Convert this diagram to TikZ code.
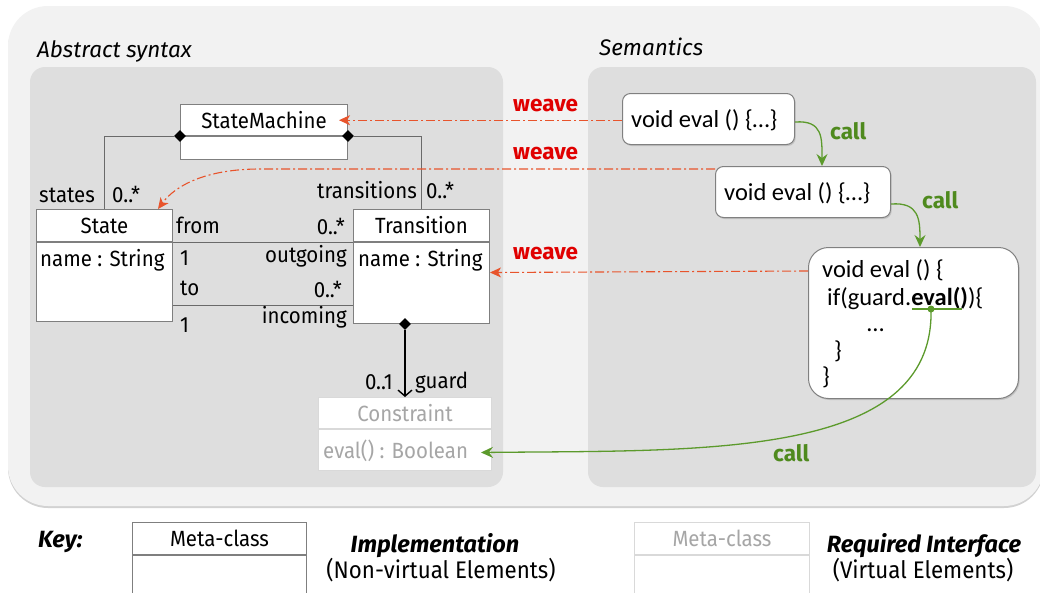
\documentclass[tikz,border=0pt]{standalone}
\usepackage{fontspec}
\setmainfont{Fira Sans}[UprightFeatures={FakeStretch=0.93}]
\newfontfamily\codefont{Carlito}
\usetikzlibrary{arrows.meta,shapes.geometric,shadows,calc}
\definecolor{outerbg}{HTML}{F2F2F2}
\definecolor{panelbg}{HTML}{DEDEDE}
\definecolor{boxline}{HTML}{7F7F7F}
\definecolor{connline}{HTML}{6A6A6A}
\definecolor{virtline}{HTML}{D9D9D9}
\definecolor{virttext}{HTML}{A6A6A6}
\definecolor{weavered}{HTML}{E00000}
\definecolor{weaveline}{HTML}{E8542C}
\definecolor{callgreen}{HTML}{4F8A1E}
\definecolor{callline}{HTML}{5C9A2C}
\definecolor{codeline}{HTML}{808080}
\begin{document}
\begin{tikzpicture}[x=1pt,y=-1pt,
  umltext/.style={font=\fontsize{22}{26}\selectfont, inner sep=0pt},
  clsbox/.style={draw=boxline, fill=white, line width=1pt, inner sep=0pt, font=\fontsize{22}{26}\selectfont},
  virtbox/.style={draw=virtline, fill=white, line width=1pt, inner sep=0pt, text=virttext, font=\fontsize{22}{26}\selectfont},
  codebox/.style={draw=codeline, fill=white, rounded corners=8pt, line width=1pt, inner sep=0pt,
     drop shadow={shadow xshift=1.2pt, shadow yshift=-1.5pt, opacity=0.3}},
  codetext/.style={font=\codefont\fontsize{24.5}{28}\selectfont, inner sep=0pt, anchor=base west},
  weavelbl/.style={font=\bfseries\fontsize{22.5}{26}\selectfont, text=weavered, inner sep=0pt, anchor=base west},
  calllbl/.style={font=\bfseries\fontsize{22.5}{26}\selectfont, text=callgreen, inner sep=0pt, anchor=base west},
  weavearrow/.style={draw=weaveline, line width=1.1pt, dash pattern=on 9pt off 3pt on 2pt off 3pt,
     -{Stealth[length=11pt,width=10pt,inset=3pt]}},
  callarrow/.style={color=callline, line width=1.3pt, -{Stealth[length=12pt,width=11pt,inset=4pt]}},
  compline/.style={draw=connline, line width=1pt},
  guardarrow/.style={draw=black, line width=1.4pt, -{Straight Barb[length=6pt,width=14pt]}},
  compdiamond/.style={diamond, fill=black, inner sep=0pt, minimum width=12pt, minimum height=12pt},
  keybold/.style={font=\bfseries\itshape\fontsize{23.5}{26}\selectfont, inner sep=0pt, anchor=base},
  keysub/.style={font=\fontsize{24}{26}\selectfont, inner sep=0pt, anchor=base},
  paneltitle/.style={font=\itshape\fontsize{22.5}{26}\selectfont, inner sep=0pt, anchor=base west}
]
\useasboundingbox (0,0) rectangle (1040,592);
\fill[white] (0,0) rectangle (1040,592);

% panels
\path[fill=outerbg, rounded corners=40pt, drop shadow={shadow xshift=0pt, shadow yshift=-2pt, opacity=0.35}]
  (8,6) rectangle (1044,506);
\fill[panelbg, rounded corners=15pt] (30,67) rectangle (503,487);
\fill[panelbg, rounded corners=15pt] (588,67) rectangle (1036,487);
\node[paneltitle] (abs) at (37,57) {Abstract syntax};
\node[paneltitle] (sem) at (599,55) {Semantics};

% classes
\node[clsbox, minimum width=167pt, minimum height=31pt, anchor=north west] (smH) at (180,104) {StateMachine};
\node[clsbox, minimum width=167pt, minimum height=23pt, anchor=north west] (smB) at (smH.south west) {};
\node[clsbox, minimum width=136pt, minimum height=32pt, anchor=north west] (stH) at (36,209) {State};
\node[clsbox, minimum width=136pt, minimum height=79pt, anchor=north west] (stB) at (stH.south west) {};
\node[clsbox, minimum width=136pt, minimum height=32pt, anchor=north west] (trH) at (353,209) {Transition};
\node[clsbox, minimum width=136pt, minimum height=81pt, anchor=north west] (trB) at (trH.south west) {};
\node[virtbox, minimum width=173pt, minimum height=31pt, anchor=north west] (coH) at (318,397) {Constraint};
\node[virtbox, minimum width=173pt, minimum height=41pt, anchor=north west] (coB) at (coH.south west) {};

\node[umltext, anchor=base west] (stA) at (40,266) {name : String};
\node[umltext, anchor=base west] (trA) at (358,266) {name : String};
\node[umltext, anchor=base west, text=virttext] (coA) at (323,458) {eval() : Boolean};

% compositions
\node[compdiamond] (d1) at (smH.south west) {};
\node[compdiamond] (d2) at (smH.south east) {};
\coordinate (d3c) at ($(trB.south west)+(52,0)$);
\node[compdiamond] (d3) at (d3c) {};
\draw[compline] (d1.west) -| (stH.north);
\draw[compline] (d2.east) -| (trH.north);
\draw[guardarrow] (d3.south) -- (d3.south |- coH.north);

% associations
\draw[compline] (stH.south east) -- (trH.south west);
\coordinate (asL) at ($(stB.north east)+(0,63)$);
\coordinate (asR) at ($(trB.north west)+(0,63)$);
\draw[compline] (asL) -- (asR);

\node[umltext, anchor=base west] (lstates) at (39,202) {states};
\node[umltext, anchor=base west] (lstm) at (112,202) {0..*};
\node[umltext, anchor=base west] (ltrans) at (317,198) {transitions};
\node[umltext, anchor=base west] (ltrm) at (426,198) {0..*};
\node[umltext, anchor=base west] (lfrom) at (176,233) {from};
\node[umltext, anchor=base east] (lfromm) at (345,234) {0..*};
\node[umltext, anchor=base west] (lone1) at (180,265) {1};
\node[umltext, anchor=base east] (lout) at (347,262) {outgoing};
\node[umltext, anchor=base west] (lto) at (180,295) {to};
\node[umltext, anchor=base east] (ltom) at (342,297) {0..*};
\node[umltext, anchor=base west] (lone2) at (180,332) {1};
\node[umltext, anchor=base east] (linc) at (347,323) {incoming};
\node[umltext, anchor=base east] (lgm) at (393,389) {0..1};
\node[umltext, anchor=base west] (lguard) at (415,388) {guard};

% semantics code boxes
\node[codebox, minimum width=172pt, minimum height=51pt, anchor=north west] (b1) at (622,93) {};
\node[codetext] (b1t) at (631,127) {void eval () \{…\}};
\node[codebox, minimum width=175pt, minimum height=51pt, anchor=north west] (b2) at (715,166) {};
\node[codetext] (b2t) at (724,200) {void eval () \{…\}};
\node[codebox, rounded corners=20pt, minimum width=210pt, minimum height=151pt, anchor=north west] (b3) at (808,247) {};
\node[codetext] (b3l1) at (822,277) {void eval () \{};
\node[codetext] (b3l2) at (827,305) {if(guard.\textbf{eval()})\{};
\node[codetext] (b3l3) at (867,331) {…};
\node[codetext] (b3l4) at (834,358) {\}};
\node[codetext] (b3l5) at (822,384) {\}};

% call arrows
\coordinate (c1s) at ($(b1.east)+(0,3)$);
\coordinate (c1e) at ($(b2.north west)+(107,0)$);
\draw[callarrow] (c1s) .. controls +(28,-2) and +(0,-28) .. (c1e);
\coordinate (c2s) at ($(b2.east)+(0,12)$);
\coordinate (c2e) at ($(b3.north west)+(112,0)$);
\draw[callarrow] (c2s) .. controls +(28,-2) and +(0,-28) .. (c2e);
\draw[callline, line width=2.5pt] (912,309) -- (962,309);
\node[circle, fill=callline, inner sep=0pt, minimum size=7pt] (evaldot) at (931,309) {};
\coordinate (coTip) at ($(coB.east)+(-11,2.5)$);
\draw[callarrow] (evaldot.center) .. controls (935,460) and (700,450) .. (coTip);
\node[calllbl] (cl1) at (830,139) {call};
\node[calllbl] (cl2) at (922,208) {call};
\node[calllbl] (cl3) at (773,461) {call};

% weave arrows
\coordinate (w1s) at ($(b1.west)+(0,1.2)$);
\coordinate (w1e) at ($(smH.east)+(-9,0.2)$);
\coordinate (w2s) at ($(b2.north west)+(0,3)$);
\coordinate (w2m) at (260,169);
\coordinate (stTip) at ($(stH.north west)+(122,0)$);
\coordinate (w3s) at ($(b3.north west)+(0,24)$);
\coordinate (w3e) at ($(trB.east)+(0,-10.5)$);
\draw[weavearrow] (w2s) -- (w2m) .. controls (205,169) and (175,186) .. (stTip);
\draw[weavearrow] (w3s) -- (w3e);
\draw[weavearrow] (w1s) -- (w1e);
\node[weavelbl] (wl1) at (513,111) {weave};
\node[weavelbl] (wl2) at (513,159) {weave};
\node[weavelbl] (wl3) at (513,259) {weave};

% key
\node[keybold, anchor=base west] (key) at (38,547) {Key:};
\node[clsbox, font=\fontsize{22}{26}\addfontfeatures{FakeStretch=1.07}\selectfont, minimum width=174pt, minimum height=32pt, anchor=north west] (k1H) at (132,522) {Meta-class};
\node[clsbox, minimum width=174pt, minimum height=60pt, anchor=north west] (k1B) at (k1H.south west) {};
\node[keybold] (impl) at (435,552) {Implementation};
\node[keysub] (implsub) at (441,578) {(Non-virtual Elements)};
\node[virtbox, font=\fontsize{22}{26}\addfontfeatures{FakeStretch=1.07}\selectfont, minimum width=175pt, minimum height=32pt, anchor=north west] (k2H) at (634,522) {Meta-class};
\node[virtbox, minimum width=175pt, minimum height=60pt, anchor=north west] (k2B) at (k2H.south west) {};
\node[keybold] (req) at (924,552) {Required Interface};
\node[keysub] (reqsub) at (923,578) {(Virtual Elements)};
\end{tikzpicture}
\end{document}
